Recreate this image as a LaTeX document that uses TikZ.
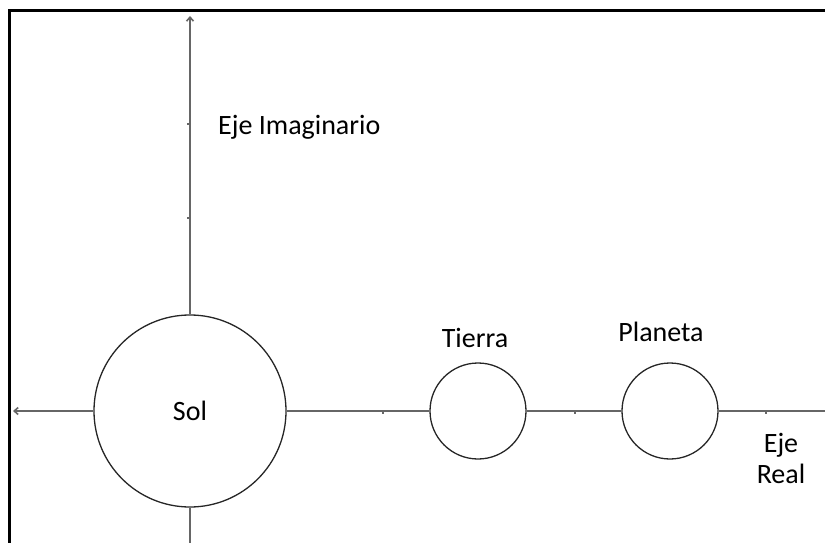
\documentclass[tikz,border=0pt]{standalone}
\usepackage{fontspec}
\setmainfont{Carlito}
\usetikzlibrary{arrows.meta}
\begin{document}
\begin{tikzpicture}[x=1pt,y=-1pt,
  axis/.style={draw=black!60, line width=1.6pt},
  body/.style={circle, draw=black!85, line width=1.3pt, inner sep=0pt, font=\fontsize{28}{32}\selectfont},
  lbl/.style={font=\fontsize{28}{31}\selectfont, inner sep=0pt, align=center},
  tick/.style={draw=black!60, line width=1.2pt}]
\useasboundingbox (0,0) rectangle (825,543);
% frame
\draw[line width=3pt] (825,11) -- (9.5,11) -- (9.5,543);
% bodies
\node[body, minimum size=192pt] (sol) at (190,411) {Sol};
\node[body, minimum size=96pt] (tierra) at (478,411) {};
\node[body, minimum size=96pt] (planeta) at (670,411) {};
% axis end points
\coordinate (left) at (13,411);
\coordinate (right) at (825,411);
\coordinate (top) at (190,16);
\coordinate (bottom) at (190,543);
% axes
\draw[axis, -{Straight Barb[length=4pt,width=7pt]}] (sol.west) -- (left);
\draw[axis] (sol.east) -- (tierra.west);
\draw[axis] (tierra.east) -- (planeta.west);
\draw[axis] (planeta.east) -- (right);
\draw[axis, -{Straight Barb[length=4pt,width=7pt]}] (sol.north) -- (top);
\draw[axis] (sol.south) -- (bottom);
% ticks
\foreach \y in {124,218} \draw[tick] (187,\y) -- (190,\y);
\foreach \x in {383,575,766} \draw[tick] (\x,411) -- (\x,413.5);
% labels
\node[lbl, anchor=west] (eim) at (218,127) {Eje Imaginario};
\node[lbl] (lt) at (475,338) {Tierra};
\node[lbl] (lp) at (661,332) {Planeta};
\node[lbl] (lr) at (781,458) {Eje\\Real};
\end{tikzpicture}
\end{document}
